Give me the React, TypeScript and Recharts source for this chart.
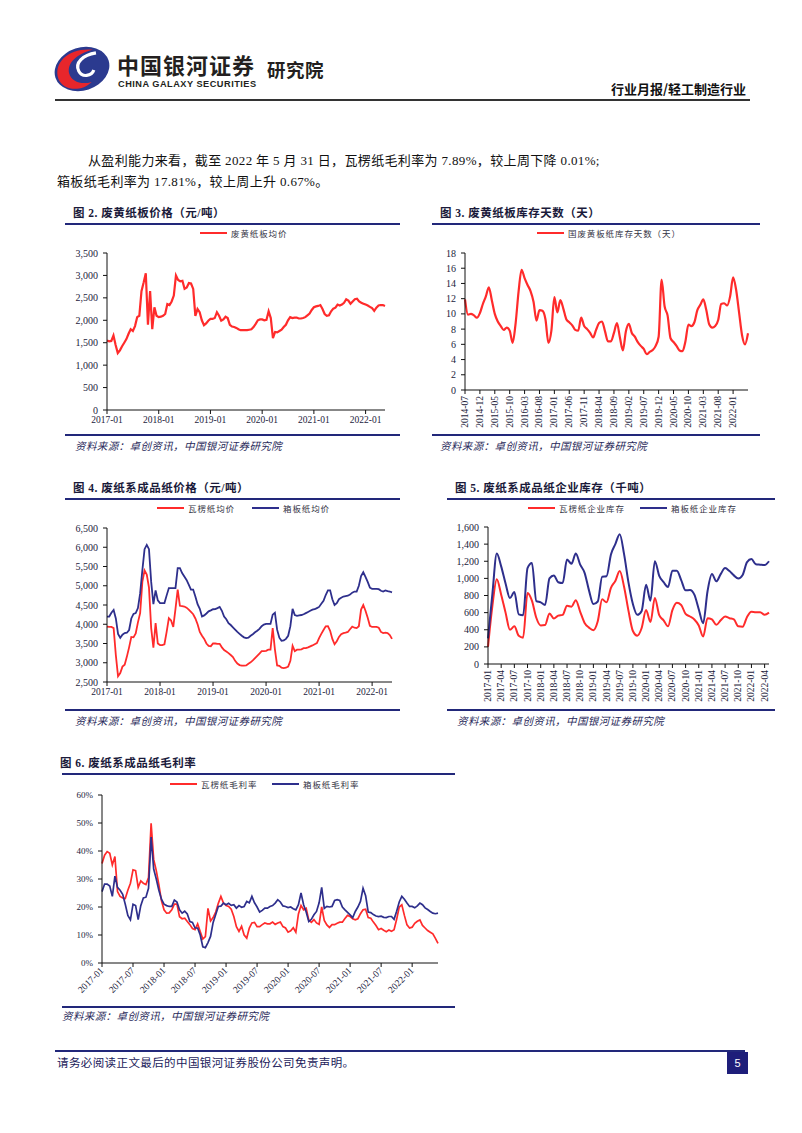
import React from "react";
import { LineChart, Line, XAxis, YAxis } from "recharts";

const RED = "#FF2B2B";
const BLUE = "#2E2F8C";
const NAVY = "#22287A";
const INK = "#1C1C3C";
const SERIF = '"Liberation Serif", "Times New Roman", "Noto Sans CJK SC", serif';

// 图2 废黄纸板均价（半月）
const wasteBoardTicks = ["2017-01", "2018-01", "2019-01", "2020-01", "2021-01", "2022-01"];
const wasteBoardPrice = [
  1550, 1530, 1540, 1660, 1450, 1270, 1330, 1420, 1500, 1580,
  1700, 1800, 1760, 1870, 2070, 2100, 2650, 2840, 3050, 1900,
  2650, 1800, 2290, 2100, 2070, 2080, 2100, 2140, 2360, 2340,
  2420, 2550, 3000, 2900, 2870, 2880, 2700, 2730, 2830, 2820,
  2700, 2100, 2250, 2180, 2000, 1890, 1930, 1990, 2030, 2030,
  2050, 2180, 2100, 1990, 2020, 2080, 2050, 1900, 1860, 1850,
  1830, 1800, 1780, 1780, 1780, 1780, 1790, 1800, 1850, 1920,
  2000, 2020, 2020, 2000, 2010, 2200, 2050, 1600, 1740, 1730,
  1760, 1790, 1850, 1900, 2000, 2070, 2050, 2060, 2060, 2040,
  2040, 2050, 2070, 2110, 2150, 2230, 2290, 2310, 2320, 2340,
  2250, 2140, 2100, 2110, 2200, 2260, 2280, 2350, 2330, 2350,
  2390, 2470, 2440, 2370, 2420, 2470, 2480, 2420, 2390, 2370,
  2350, 2330, 2300, 2270, 2210, 2280, 2330, 2340, 2340, 2320,
];

// 图3 国废黄板纸库存天数（月）
const stockDayTicks = [
  "2014-07", "2014-12", "2015-05", "2015-10", "2016-03", "2016-08", "2017-01",
  "2017-06", "2017-11", "2018-04", "2018-09", "2019-02", "2019-07", "2019-12",
  "2020-05", "2020-10", "2021-03", "2021-08", "2022-01",
];
const stockDays = [
  11.9, 9.9, 10.0, 9.8, 9.5, 10.1, 11.3, 12.3, 13.5, 11.8,
  10.0, 9.0, 8.4, 7.9, 8.2, 7.8, 6.2, 8.8, 13.0, 15.8,
  14.7, 13.8, 13.0, 11.6, 9.1, 10.5, 10.4, 9.3, 6.2, 7.8,
  12.2, 10.2, 11.8, 10.7, 9.3, 8.9, 8.5, 7.9, 7.8, 9.5,
  8.4, 8.0, 7.5, 6.9, 7.9, 8.8, 9.0, 7.7, 6.4, 6.4,
  7.5, 8.8, 6.9, 5.2, 7.7, 8.7, 7.5, 7.0, 6.3, 5.8,
  5.4, 4.7, 5.0, 5.25, 5.8, 7.0, 14.5, 11.0, 9.8, 6.8,
  6.3, 5.8, 5.2, 5.1, 6.4, 8.6, 8.4, 8.9, 10.5, 11.2,
  11.9, 10.5, 8.6, 8.2, 8.4, 9.2, 11.3, 11.4, 11.1, 12.3,
  14.8, 13.2, 10.2, 7.2, 6.0, 7.45,
];

// 图4 瓦楞纸 / 箱板纸均价（半月）
const paperPriceTicks = ["2017-01", "2018-01", "2019-01", "2020-01", "2021-01", "2022-01"];
const corrugatedPrice = [
  3940, 3930, 3930, 3900, 3200, 2650, 2730, 2900, 2950, 3160,
  3400, 3670, 3660, 3760, 4050, 4290, 5100, 5400, 5290, 4950,
  3900, 3390, 4030, 3500, 3460, 3460, 3480, 3800, 4160, 4100,
  3930, 4400, 4900, 4480, 4470, 4460, 4430, 4380, 4320, 4260,
  4150, 4000, 3800, 3700, 3620, 3500, 3440, 3430, 3500, 3500,
  3490, 3490, 3400, 3330, 3290, 3250, 3200, 3150, 3050, 2980,
  2940, 2925, 2925, 2930, 2975, 3010, 3060, 3120, 3180, 3240,
  3300, 3300, 3310, 3340, 3340, 3900, 3350, 2930, 2920, 2870,
  2860, 2870, 2900, 3050, 3440, 3300, 3340, 3340, 3350, 3380,
  3380, 3400, 3425, 3450, 3480, 3510, 3640, 3750, 3850, 3945,
  3950, 3830, 3620, 3480, 3560, 3670, 3740, 3770, 3780, 3800,
  3870, 3940, 3910, 3900, 3950, 4380, 4500, 4350, 4170, 3960,
  3930, 3930, 3930, 3910, 3800, 3770, 3780, 3770, 3720, 3620,
];
const boxboardPrice = [
  4200, 4200, 4300, 4370, 4150, 3750, 3650, 3730, 3770, 3780,
  3850, 4150, 4270, 4290, 4420, 4800, 5400, 5950, 6060, 5950,
  5100, 4520, 4880, 4620, 4550, 4550, 4550, 4750, 4940, 4940,
  4940, 4940, 5460, 5460, 5330, 5240, 5150, 5030, 4900, 4900,
  4720, 4520, 4400, 4200, 4230, 4280, 4335, 4360, 4390, 4395,
  4420, 4450, 4350, 4200, 4130, 4030, 3980, 3920, 3860, 3800,
  3750, 3700, 3660, 3640, 3650, 3700, 3740, 3790, 3830, 3880,
  3950, 3990, 4010, 4010, 4010, 4250, 4300, 3860, 3650, 3570,
  3580, 3620, 3700, 3950, 4400, 4240, 4220, 4230, 4240, 4260,
  4290, 4320, 4350, 4380, 4390, 4420, 4450, 4530, 4610, 4760,
  4880, 4880, 4650, 4500, 4550, 4650, 4690, 4720, 4730, 4740,
  4770, 4820, 4850, 4850, 5000, 5250, 5350, 5230, 5100, 4950,
  4920, 4920, 4920, 4910, 4870, 4850, 4880, 4860, 4850, 4830,
];

// 图5 企业库存（月，千吨）
const inventoryTicks = [
  "2017-01", "2017-04", "2017-07", "2017-10", "2018-01", "2018-04", "2018-07", "2018-10",
  "2019-01", "2019-04", "2019-07", "2019-10", "2020-01", "2020-04", "2020-07", "2020-10",
  "2021-01", "2021-04", "2021-07", "2021-10", "2022-01", "2022-04",
];
const corrugatedStock = [
  200, 680, 990, 810, 600, 400, 440, 330, 308, 830,
  740, 540, 450, 455, 590, 530, 565, 574, 680, 670,
  745, 610, 480, 425, 395, 500, 755, 720, 890, 970,
  1085, 900, 620, 385, 330, 420, 630, 490, 770, 570,
  510, 440, 630, 715, 690, 585, 555, 520, 450, 320,
  535, 520, 457, 510, 555, 535, 520, 440, 435, 550,
  610, 605, 605, 575, 600,
];
const boxboardStock = [
  300, 820, 1290, 1140, 940, 770, 840, 580, 570, 1120,
  1180, 735, 720, 690, 1000, 1035, 955, 945, 1220, 1170,
  1290, 1160, 1065, 860, 700, 730, 1020, 1025, 1280, 1400,
  1515, 1280, 950, 700, 574, 620, 925, 740, 1200, 1030,
  955, 900, 1090, 1090, 980, 860, 865, 810, 640, 476,
  850, 1050, 965, 1050, 1120, 1085, 1035, 998, 1040, 1190,
  1225, 1165, 1160, 1155, 1200,
];

// 图6 毛利率（半月，%）
const marginTicks = [
  "2017-01", "2017-07", "2018-01", "2018-07", "2019-01", "2019-07",
  "2020-01", "2020-07", "2021-01", "2021-07", "2022-01",
];
const corrugatedMargin = [
  35.5, 38.5, 39.8, 39.2, 35.0, 38.0, 25.5, 23.8, 23.2, 23.0,
  26.0, 28.5, 33.3, 33.0, 27.0, 29.3, 28.5, 28.0, 30.5, 49.9,
  37.0, 33.0, 28.0, 22.3, 19.0, 17.8, 17.9, 19.0, 21.0, 21.0,
  16.5, 15.8, 16.0, 14.8, 13.7, 12.3, 11.9, 14.0, 11.2, 8.6,
  9.4, 19.5, 15.0, 16.2, 18.2, 21.3, 23.8, 21.4, 20.5, 20.2,
  19.2, 16.6, 13.0, 11.3, 13.1, 10.0, 8.9, 12.5, 14.3, 14.5,
  13.0, 13.0, 13.7, 14.3, 14.0, 14.0, 14.6, 13.8, 14.3, 14.6,
  13.0, 12.5, 11.0, 11.5, 12.6, 11.0, 17.5, 20.5, 19.0, 19.5,
  15.3, 14.5, 15.5, 14.3, 13.8, 20.0, 15.2, 13.6, 12.7, 13.7,
  13.7, 14.2, 14.6, 14.6, 15.9, 17.0, 16.6, 15.8, 15.4, 15.8,
  17.6, 19.0, 19.2, 16.2, 16.0, 14.6, 13.4, 11.9, 12.3, 11.7,
  11.2, 11.8, 11.3, 11.9, 15.6, 20.0, 20.8, 17.0, 13.6, 12.5,
  12.8, 14.2, 14.9, 15.4, 13.4, 12.5, 11.6, 11.0, 10.4, 8.8,
  7.0,
];
const boxboardMargin = [
  25.5, 28.2, 28.2, 27.5, 23.8, 31.0, 27.0, 26.0, 24.5, 21.0,
  17.0, 15.4, 21.0, 20.5, 15.5, 20.5, 23.2, 23.5, 26.7, 45.0,
  33.5, 30.0, 26.0, 22.8, 21.0, 20.5, 20.2, 20.2, 22.5, 21.8,
  19.0, 17.8, 18.5, 17.5, 14.8, 14.5, 12.5, 12.5, 10.0, 5.8,
  5.5, 7.3, 9.5, 14.5, 17.3, 20.2, 20.3, 21.4, 20.8, 21.3,
  20.6, 20.8, 19.6, 20.5, 19.9, 20.2, 22.0, 21.5, 23.8, 21.5,
  20.0, 18.2, 18.8, 19.6, 19.6, 20.2, 20.5, 21.4, 22.6, 21.8,
  20.4, 20.2, 19.8, 20.0, 19.4, 19.0, 20.8, 25.0, 20.8, 18.2,
  14.8, 15.6, 17.2, 18.4, 21.5, 27.0, 19.5, 20.2, 20.0, 20.2,
  22.3, 22.6, 22.3, 20.0, 19.0, 18.1, 17.2, 16.2, 18.4, 20.0,
  22.0, 26.7, 24.0, 18.2, 18.0, 17.3, 16.8, 16.6, 16.7, 16.3,
  16.2, 16.6, 16.6, 15.6, 18.5, 21.8, 23.8, 22.8, 21.4, 20.2,
  20.2, 19.7, 20.4, 21.4, 20.8, 19.7, 19.1, 18.4, 17.8, 17.6,
  17.8,
];

type S = { key: string; values: number[]; color: string; width: number; curve?: "linear" | "monotone" };

const toRows = (series: S[]) =>
  series[0].values.map((_, i) => {
    const row: Record<string, number> = { i };
    series.forEach((s) => (row[s.key] = s.values[i]));
    return row;
  });

const AngledTick = (props: any) => {
  const { x, y, payload, labels, step, angle } = props;
  return (
    <text
      x={x}
      y={y}
      transform={`rotate(${angle}, ${x}, ${y})`}
      textAnchor="end"
      dominantBaseline="central"
      fontSize={9.5}
      fontFamily={SERIF}
      fill={INK}
    >
      {labels[Math.round(payload.value / step)]}
    </text>
  );
};

type PlotProps = {
  px: number; py: number; pw: number; ph: number; xh: number;
  series: S[]; labels: string[]; step: number;
  yDomain: [number, number]; yTicks: number[]; yFmt: (v: number) => string;
  angle?: number; yFont?: number;
};

const Plot = ({ px, py, pw, ph, xh, series, labels, step, yDomain, yTicks, yFmt, angle, yFont = 10 }: PlotProps) => {
  const rows = toRows(series);
  const xMax = rows.length - 1;
  const xTicks = labels.map((_, k) => k * step);
  const tickStyle = { fill: INK, fontSize: 9.5, fontFamily: SERIF };
  return (
    <div style={{ position: "absolute", left: px - 50, top: py - 10 }}>
      <LineChart width={pw + 60} height={ph + 10 + xh} data={rows} margin={{ top: 10, right: 10, bottom: 0, left: 0 }}>
        <XAxis
          dataKey="i"
          type="number"
          domain={[0, xMax]}
          ticks={xTicks}
          interval={0}
          height={xh}
          stroke="#111"
          tickSize={4}
          tickMargin={2}
          tick={
            angle
              ? (p: any) => <AngledTick {...p} labels={labels} step={step} angle={angle} />
              : { ...tickStyle }
          }
          tickFormatter={(v: number) => labels[Math.round(v / step)]}
        />
        <YAxis
          width={50}
          domain={yDomain}
          ticks={yTicks}
          interval={0}
          stroke="#111"
          tickSize={4}
          tickMargin={5}
          tick={{ ...tickStyle, fontSize: yFont }}
          tickFormatter={yFmt}
        />
        {series.map((s) => (
          <Line
            key={s.key}
            dataKey={s.key}
            type={s.curve ?? "linear"}
            stroke={s.color}
            strokeWidth={s.width}
            dot={false}
            activeDot={false}
            isAnimationActive={false}
          />
        ))}
      </LineChart>
    </div>
  );
};

const abs = (x: number, y: number, extra: React.CSSProperties = {}): React.CSSProperties => ({
  position: "absolute", left: x, top: y, whiteSpace: "nowrap", ...extra,
});

const Rule = ({ x1, x2, y, w = 2, c = NAVY }: { x1: number; x2: number; y: number; w?: number; c?: string }) => (
  <div style={abs(x1, y - w / 2, { width: x2 - x1, height: w, background: c })} />
);

const Title = ({ x, y, text }: { x: number; y: number; text: string }) => (
  <div style={abs(x, y - 8, { fontSize: 11.5, lineHeight: "16px", fontWeight: 700, color: "#1A1A3A", fontFamily: SERIF, letterSpacing: 0.5 })}>
    {text}
  </div>
);

const Source = ({ x, y }: { x: number; y: number }) => (
  <div style={abs(x, y - 7, { fontSize: 10.5, lineHeight: "14px", fontStyle: "italic", color: "#2A2A5A", fontFamily: SERIF, letterSpacing: 0.4 })}>
    资料来源：卓创资讯，中国银河证券研究院
  </div>
);

const Key = ({ x, y, color, text }: { x: number; y: number; color: string; text: string }) => (
  <div style={abs(x, y - 6, { height: 12, display: "flex", alignItems: "center" })}>
    <span style={{ display: "inline-block", width: 27, height: 2.5, background: color, marginRight: 4 }} />
    <span style={{ fontSize: 8.5, letterSpacing: 0.9, color: "#333344", fontFamily: SERIF }}>{text}</span>
  </div>
);

const Logo = () => (
  <svg style={abs(53, 44)} width={58} height={50} viewBox="0 0 54 46">
    <ellipse cx={27} cy={23} rx={26} ry={20} fill="#2B3A8F" transform="rotate(-18 27 23)" />
    <path d="M5,32 C0,16 16,3 37,5 C22,9 13,17 15,27 C17,35 27,38 36,35 C27,44 10,44 5,32 Z" fill="#E8262B" />
    <path d="M40,8 C28,10 20,17 24,25 C27,31 36,30 38,24" stroke="#fff" strokeWidth={3} fill="none" />
  </svg>
);

export default function App() {
  const k = (v: number) => v.toLocaleString("en-US");
  return (
    <div style={{ position: "absolute", left: 0, top: 0, width: 802, height: 1133, background: "#fff", overflow: "hidden", fontFamily: SERIF }}>
      <Logo />
      <div style={abs(117, 50, { fontSize: 22, lineHeight: "28px", fontWeight: 700, color: "#231F20", fontFamily: '"Noto Sans CJK SC", sans-serif', letterSpacing: 1 })}>
        中国银河证券
      </div>
      <div style={abs(118, 79, { fontSize: 9.2, lineHeight: "10px", fontWeight: 700, color: "#231F20", fontFamily: '"Liberation Sans", Arial, sans-serif', letterSpacing: 0.5 })}>
        CHINA GALAXY SECURITIES
      </div>
      <div style={abs(267, 57, { fontSize: 18.5, lineHeight: "24px", fontWeight: 700, color: "#231F20", fontFamily: '"Noto Sans CJK SC", sans-serif', letterSpacing: 0.5 })}>
        研究院
      </div>
      <div style={abs(604, 81, { width: 142, textAlign: "right", fontSize: 13, lineHeight: "16px", fontWeight: 700, color: "#111", fontFamily: '"Noto Sans CJK SC", sans-serif' })}>
        行业月报/轻工制造行业
      </div>
      <Rule x1={55} x2={750} y={100} w={1.5} c="#333" />

      <div style={abs(88, 153, { fontSize: 13, lineHeight: "16px", color: "#111", letterSpacing: 0.35 })}>
        从盈利能力来看，截至 2022 年 5 月 31 日，瓦楞纸毛利率为 7.89%，较上周下降 0.01%;
      </div>
      <div style={abs(57, 174, { fontSize: 13, lineHeight: "16px", color: "#111", letterSpacing: 0.35 })}>
        箱板纸毛利率为 17.81%，较上周上升 0.67%。
      </div>

      {/* 图2 */}
      <Title x={73} y={213} text="图 2. 废黄纸板价格（元/吨）" />
      <Rule x1={65} x2={400} y={224} />
      <Key x={200} y={233} color={RED} text="废黄纸板均价" />
      <Plot
        px={107} py={253} pw={278} ph={157} xh={22}
        series={[{ key: "price", values: wasteBoardPrice, color: RED, width: 2.2 }]}
        labels={wasteBoardTicks} step={24}
        yDomain={[0, 3500]} yTicks={[0, 500, 1000, 1500, 2000, 2500, 3000, 3500]} yFmt={k}
      />
      <Rule x1={65} x2={400} y={435} w={1.5} />
      <Source x={75} y={447} />

      {/* 图3 */}
      <Title x={440} y={213} text="图 3. 废黄纸板库存天数（天）" />
      <Rule x1={432} x2={760} y={224} />
      <Key x={537} y={233} color={RED} text="国废黄板纸库存天数（天）" />
      <Plot
        px={465} py={253} pw={283} ph={137} xh={44}
        series={[{ key: "days", values: stockDays, color: RED, width: 2.2, curve: "monotone" }]}
        labels={stockDayTicks} step={5} angle={-90}
        yDomain={[0, 18]} yTicks={[0, 2, 4, 6, 8, 10, 12, 14, 16, 18]} yFmt={(v) => String(v)}
      />
      <Rule x1={432} x2={760} y={435} w={1.5} />
      <Source x={440} y={447} />

      {/* 图4 */}
      <Title x={73} y={488} text="图 4. 废纸系成品纸价格（元/吨）" />
      <Rule x1={65} x2={400} y={499} />
      <Key x={157} y={508} color={RED} text="瓦楞纸均价" />
      <Key x={252} y={508} color={BLUE} text="箱板纸均价" />
      <Plot
        px={107} py={528} pw={285} ph={154} xh={22}
        series={[
          { key: "corr", values: corrugatedPrice, color: RED, width: 1.8 },
          { key: "box", values: boxboardPrice, color: BLUE, width: 1.8 },
        ]}
        labels={paperPriceTicks} step={24}
        yDomain={[2500, 6500]} yTicks={[2500, 3000, 3500, 4000, 4500, 5000, 5500, 6000, 6500]} yFmt={k}
      />
      <Rule x1={65} x2={400} y={710} w={1.5} />
      <Source x={75} y={722} />

      {/* 图5 */}
      <Title x={455} y={488} text="图 5. 废纸系成品纸企业库存（千吨）" />
      <Rule x1={447} x2={775} y={499} />
      <Key x={528} y={508} color={RED} text="瓦楞纸企业库存" />
      <Key x={640} y={508} color={BLUE} text="箱板纸企业库存" />
      <Plot
        px={488} py={527} pw={281} ph={137} xh={44}
        series={[
          { key: "corr", values: corrugatedStock, color: RED, width: 2, curve: "monotone" },
          { key: "box", values: boxboardStock, color: BLUE, width: 2, curve: "monotone" },
        ]}
        labels={inventoryTicks} step={3} angle={-90}
        yDomain={[0, 1600]} yTicks={[0, 200, 400, 600, 800, 1000, 1200, 1400, 1600]} yFmt={k}
      />
      <Rule x1={447} x2={775} y={710} w={1.5} />
      <Source x={457} y={722} />

      {/* 图6 */}
      <Title x={60} y={763} text="图 6. 废纸系成品纸毛利率" />
      <Rule x1={62} x2={455} y={774} />
      <Key x={170} y={784} color={RED} text="瓦楞纸毛利率" />
      <Key x={272} y={784} color={BLUE} text="箱板纸毛利率" />
      <Plot
        px={102} py={795} pw={336} ph={168} xh={40}
        series={[
          { key: "corr", values: corrugatedMargin, color: RED, width: 1.7 },
          { key: "box", values: boxboardMargin, color: BLUE, width: 1.7 },
        ]}
        labels={marginTicks} step={12} angle={-45}
        yDomain={[0, 60]} yTicks={[0, 10, 20, 30, 40, 50, 60]} yFmt={(v) => `${v}%`} yFont={9}
      />
      <Rule x1={62} x2={455} y={1007} w={1.5} />
      <Source x={62} y={1017} />

      {/* 页脚 */}
      <Rule x1={55} x2={745} y={1051} w={1.5} />
      <div style={abs(57, 1056, { fontSize: 11.5, lineHeight: "14px", color: "#1A1A5A", letterSpacing: 0.4 })}>
        请务必阅读正文最后的中国银河证券股份公司免责声明。
      </div>
      <div style={abs(727, 1052, { width: 21, height: 22, background: "#1E1E7A", color: "#fff", fontSize: 11, fontFamily: '"Liberation Sans", Arial, sans-serif', display: "flex", alignItems: "center", justifyContent: "center" })}>
        5
      </div>
    </div>
  );
}
